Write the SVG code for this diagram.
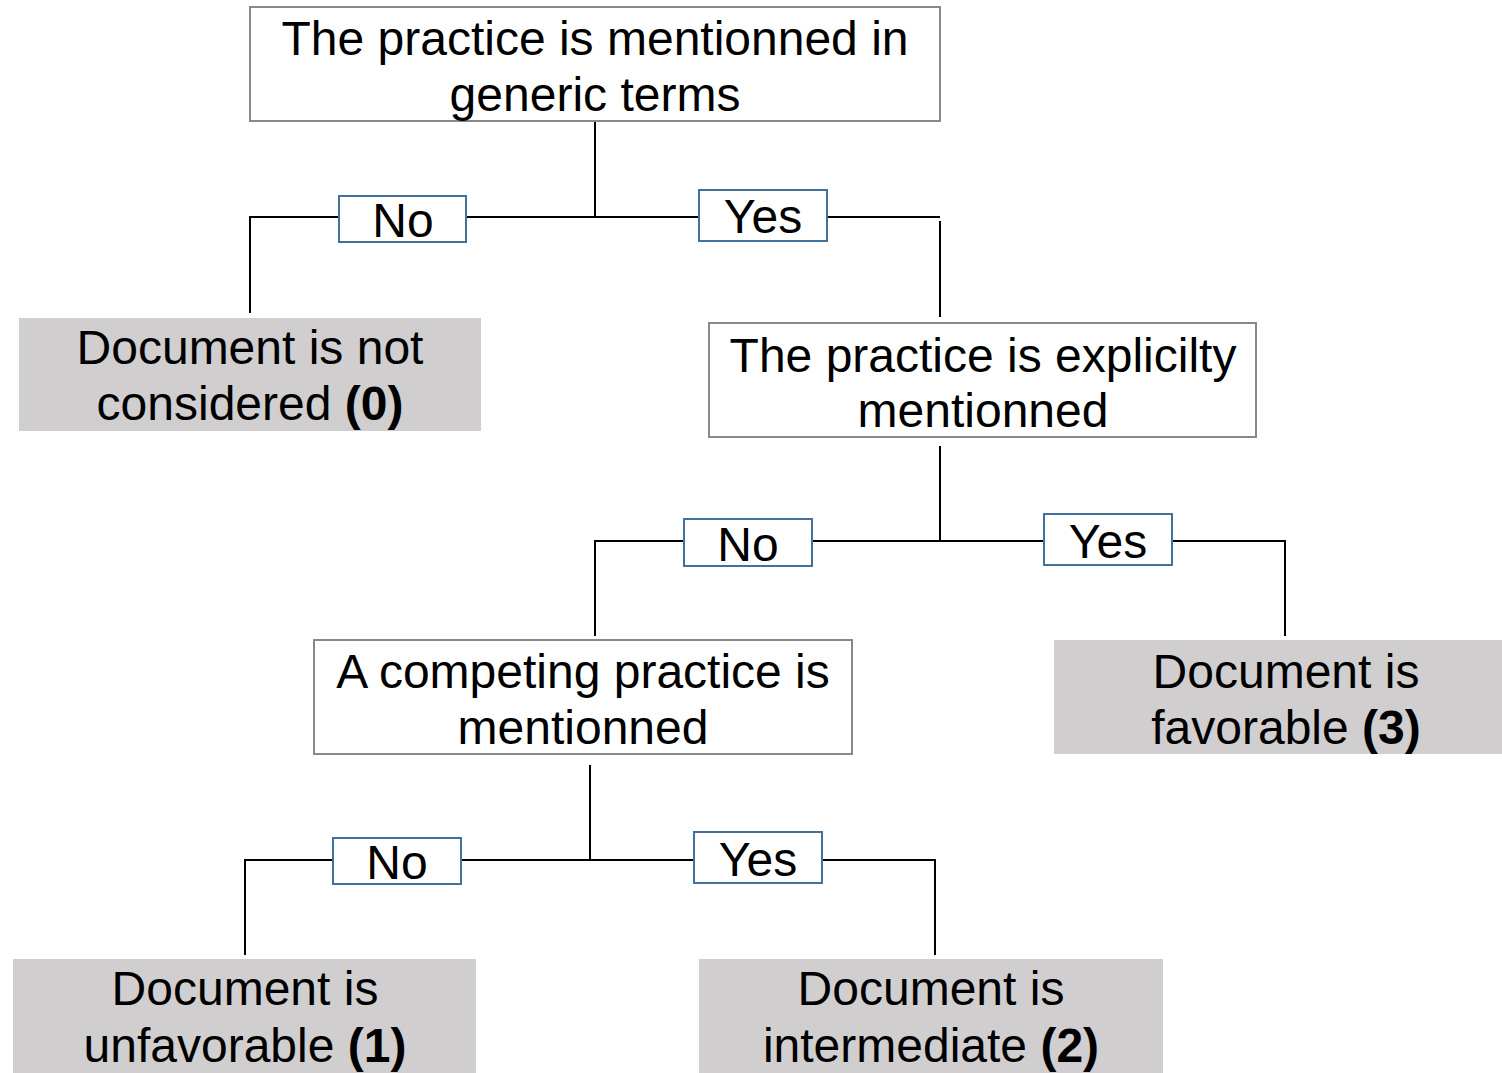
<svg xmlns="http://www.w3.org/2000/svg" width="1502" height="1073" viewBox="0 0 1502 1073">
<style>
text{font-family:"Liberation Sans",Arial,sans-serif;font-size:48px;fill:#000;text-anchor:middle}
.q{fill:#fff;stroke:#888;stroke-width:2}
.r{fill:#d0cece;stroke:none}
.l{fill:#fff;stroke:#41719c;stroke-width:2}
.c{fill:none;stroke:#000;stroke-width:2}
b{font-weight:bold}
</style>
<g id="connectors">
<path class="c" d="M595 121V217M250 313V217H940M940 221V317"/>
<path class="c" d="M940 446V541M595 636V541H1285V636"/>
<path class="c" d="M590 765V860M245 955V860H935V955"/>
</g>
<g id="q1"><rect class="q" x="250" y="7" width="690" height="114"/><text x="595" y="55">The practice is mentionned in</text><text x="595" y="111">generic terms</text></g>
<g id="lblNo1"><rect class="l" x="339" y="196" width="127" height="46"/><text x="403" y="237">No</text></g>
<g id="lblYes1"><rect class="l" x="699" y="190" width="128" height="51"/><text x="763" y="233">Yes</text></g>
<g id="r0"><rect class="r" x="19" y="318" width="462" height="113"/><text x="250" y="364">Document is not</text><text x="250" y="420">considered <tspan font-weight="bold">(0)</tspan></text></g>
<g id="q2"><rect class="q" x="709" y="323" width="547" height="114"/><text x="983" y="372">The practice is explicilty</text><text x="983" y="427">mentionned</text></g>
<g id="lblNo2"><rect class="l" x="684" y="519" width="128" height="47"/><text x="748" y="561">No</text></g>
<g id="lblYes2"><rect class="l" x="1044" y="514" width="128" height="51"/><text x="1108" y="558">Yes</text></g>
<g id="q3"><rect class="q" x="314" y="640" width="538" height="114"/><text x="583" y="688">A competing practice is</text><text x="583" y="744">mentionned</text></g>
<g id="r3"><rect class="r" x="1054" y="640" width="448" height="114"/><text x="1286" y="688">Document is</text><text x="1286" y="744">favorable <tspan font-weight="bold">(3)</tspan></text></g>
<g id="lblNo3"><rect class="l" x="333" y="838" width="128" height="46"/><text x="397" y="879">No</text></g>
<g id="lblYes3"><rect class="l" x="694" y="832" width="128" height="51"/><text x="758" y="876">Yes</text></g>
<g id="r1"><rect class="r" x="13" y="959" width="463" height="114"/><text x="245" y="1005">Document is</text><text x="245" y="1062">unfavorable <tspan font-weight="bold">(1)</tspan></text></g>
<g id="r2"><rect class="r" x="699" y="959" width="464" height="114"/><text x="931" y="1005">Document is</text><text x="931" y="1062">intermediate <tspan font-weight="bold">(2)</tspan></text></g>
</svg>
